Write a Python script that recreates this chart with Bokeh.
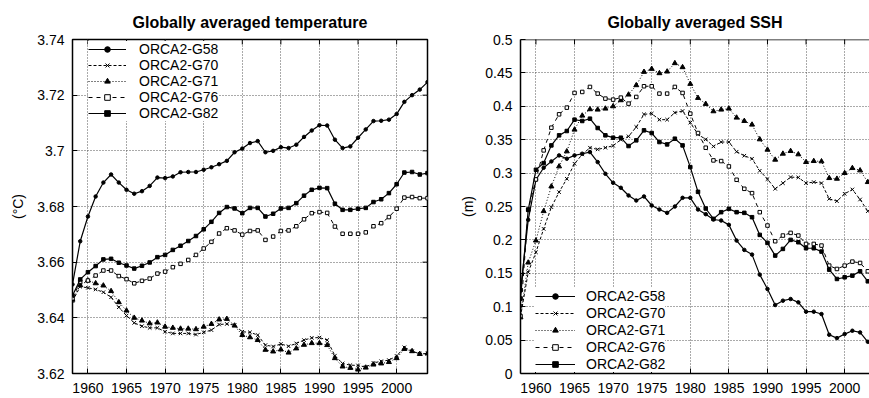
import math
from bokeh.plotting import figure
from bokeh.layouts import row
from bokeh.models import FixedTicker, Legend, LegendItem, Range1d, Span
from bokeh.embed import file_html
from bokeh.resources import INLINE

FONT = "Liberation Sans"

# ---------------- data ----------------
years_temp = list(range(1958, 2005))
years_ssh = list(range(1958, 2004))

run_names = ["ORCA2-G58", "ORCA2-G70", "ORCA2-G71", "ORCA2-G76", "ORCA2-G82"]

temp_g58 = [3.652, 3.6675, 3.6764, 3.6836, 3.6886, 3.6915, 3.6886, 3.686, 3.6846, 3.6855,
            3.6874, 3.6904, 3.6902, 3.6908, 3.6923, 3.6924, 3.6924, 3.6932, 3.6941, 3.6952,
            3.6964, 3.6995, 3.7008, 3.7028, 3.7035, 3.6995, 3.700, 3.7013, 3.701, 3.7022,
            3.705, 3.7073, 3.7092, 3.7091, 3.704, 3.701, 3.7016, 3.7047, 3.7077, 3.7107,
            3.7108, 3.7112, 3.7132, 3.7176, 3.720, 3.722, 3.7247]
temp_g70 = [3.646, 3.6512, 3.6508, 3.6502, 3.6492, 3.6474, 3.6438, 3.6408, 3.6382, 3.637,
            3.6364, 3.6364, 3.635, 3.6344, 3.6344, 3.6344, 3.634, 3.6348, 3.6356, 3.6376,
            3.6378, 3.6374, 3.635, 3.6348, 3.6338, 3.6302, 3.6297, 3.6306, 3.6298, 3.6308,
            3.632, 3.6328, 3.6329, 3.632, 3.6264, 3.6236, 3.623, 3.6229, 3.6223, 3.6238,
            3.6244, 3.6248, 3.6263, 3.6294, 3.628, 3.6271, 3.6272]
temp_g71 = [3.6465, 3.6517, 3.6534, 3.6524, 3.6516, 3.6496, 3.6456, 3.6426, 3.640, 3.639,
            3.638, 3.6383, 3.6368, 3.6364, 3.6361, 3.6361, 3.6359, 3.6368, 3.6378, 3.6394,
            3.6396, 3.6372, 3.6338, 3.633, 3.632, 3.6285, 3.6279, 3.6286, 3.6275, 3.629,
            3.6303, 3.6309, 3.6309, 3.6302, 3.6255, 3.6225, 3.622, 3.6214, 3.6221, 3.6232,
            3.6236, 3.6241, 3.6255, 3.6288, 3.628, 3.627, 3.6272]
temp_g76 = [3.647, 3.653, 3.6534, 3.6552, 3.657, 3.657, 3.655, 3.6539, 3.6524, 3.6533,
            3.6541, 3.6559, 3.6566, 3.6582, 3.6594, 3.6608, 3.6626, 3.6649, 3.6673, 3.6703,
            3.6722, 3.6714, 3.6699, 3.6712, 3.6714, 3.668, 3.6692, 3.6712, 3.6714, 3.6729,
            3.6754, 3.6776, 3.678, 3.6777, 3.6728, 3.6702, 3.6702, 3.6702, 3.6707, 3.6729,
            3.674, 3.6762, 3.6792, 3.6832, 3.6834, 3.683, 3.683]
temp_g82 = [3.648, 3.6538, 3.6564, 3.6586, 3.661, 3.6612, 3.6598, 3.6588, 3.6577, 3.6587,
            3.6599, 3.6618, 3.6626, 3.6644, 3.6659, 3.6676, 3.6694, 3.6718, 3.6745, 3.6777,
            3.6798, 3.6793, 3.6776, 3.6795, 3.6795, 3.6764, 3.6774, 3.6793, 3.6795, 3.6812,
            3.6839, 3.686, 3.6867, 3.6866, 3.681, 3.6788, 3.6788, 3.6792, 3.6795, 3.6816,
            3.6826, 3.6848, 3.688, 3.6922, 3.6924, 3.6915, 3.692]

ssh_g58 = [0.124, 0.23, 0.29, 0.308, 0.3175, 0.3265, 0.3215, 0.3265, 0.329, 0.3315,
           0.3165, 0.299, 0.2855, 0.278, 0.2665, 0.259, 0.265, 0.2515, 0.2455, 0.2405,
           0.25, 0.263, 0.263, 0.2455, 0.2385, 0.2305, 0.229, 0.2225, 0.199, 0.185,
           0.178, 0.148, 0.1265, 0.1025, 0.109, 0.1115, 0.1065, 0.0925, 0.0925, 0.089,
           0.058, 0.053, 0.059, 0.064, 0.0615, 0.0475]
ssh_g70 = [0.085, 0.1515, 0.1815, 0.2165, 0.249, 0.2715, 0.2915, 0.314, 0.328, 0.338,
           0.3355, 0.338, 0.341, 0.35, 0.355, 0.369, 0.388, 0.389, 0.38, 0.38,
           0.3905, 0.393, 0.3755, 0.358, 0.3505, 0.34, 0.3465, 0.3465, 0.332, 0.326,
           0.3215, 0.3035, 0.291, 0.2765, 0.285, 0.294, 0.2935, 0.285, 0.2865, 0.285,
           0.2615, 0.258, 0.269, 0.2755, 0.2605, 0.243]
ssh_g71 = [0.084, 0.166, 0.199, 0.243, 0.28, 0.31, 0.3325, 0.365, 0.386, 0.3955,
           0.395, 0.3965, 0.40, 0.409, 0.4175, 0.4315, 0.4515, 0.456, 0.4495, 0.452,
           0.4645, 0.4585, 0.4335, 0.4125, 0.4035, 0.3925, 0.395, 0.3965, 0.383, 0.378,
           0.3725, 0.3505, 0.335, 0.32, 0.329, 0.333, 0.328, 0.3165, 0.318, 0.3175,
           0.2925, 0.2915, 0.30, 0.3075, 0.304, 0.2865]
ssh_g76 = [0.086, 0.2455, 0.2905, 0.334, 0.368, 0.388, 0.398, 0.42, 0.4215, 0.429,
           0.419, 0.4115, 0.41, 0.413, 0.404, 0.414, 0.43, 0.43, 0.419, 0.419,
           0.429, 0.42, 0.389, 0.36, 0.338, 0.319, 0.318, 0.31, 0.29, 0.2765,
           0.27, 0.2415, 0.2215, 0.198, 0.2065, 0.2105, 0.2065, 0.194, 0.194, 0.1915,
           0.1615, 0.1565, 0.1615, 0.1675, 0.1655, 0.153]
ssh_g82 = [0.112, 0.245, 0.305, 0.315, 0.3415, 0.3565, 0.363, 0.38, 0.378, 0.3815,
           0.3675, 0.3565, 0.353, 0.353, 0.3405, 0.349, 0.364, 0.36, 0.3465, 0.343,
           0.3515, 0.3415, 0.309, 0.272, 0.247, 0.2315, 0.2415, 0.2465, 0.2415, 0.2405,
           0.234, 0.2075, 0.1955, 0.1765, 0.1865, 0.2, 0.1965, 0.1875, 0.1875, 0.1825,
           0.1555, 0.1415, 0.144, 0.1465, 0.153, 0.138]

year_ticks = [1960, 1965, 1970, 1975, 1980, 1985, 1990, 1995, 2000]
temp_ticks = [3.62, 3.64, 3.66, 3.68, 3.7, 3.72, 3.74]
temp_tick_labels = ["3.62", "3.64", "3.66", "3.68", "3.7", "3.72", "3.74"]
ssh_ticks = [0, 0.05, 0.1, 0.15, 0.2, 0.25, 0.3, 0.35, 0.4, 0.45, 0.5]
ssh_tick_labels = ["0", "0.05", "0.1", "0.15", "0.2", "0.25", "0.3", "0.35", "0.4", "0.45", "0.5"]

# line / marker styles per run
styles = [
    dict(dash="solid", width=1.2, marker="circle", size=3.5, fill="black"),
    dict(dash="3 2", width=1.0, marker="x", size=5, fill="black"),
    dict(dash="1 2", width=1.0, marker="triangle", size=5, fill="black"),
    dict(dash="4 4", width=1.0, marker="square", size=3.5, fill="white"),
    dict(dash="solid", width=1.2, marker="square", size=3.5, fill="black"),
]


def style_axis(ax, line=False):
    ax.major_tick_in = 5
    ax.major_tick_out = 0
    ax.minor_tick_line_color = None
    ax.major_tick_line_color = "black"
    ax.major_tick_line_width = 1
    ax.major_label_text_font = FONT
    ax.major_label_text_color = "black"
    ax.major_label_text_font_size = "14px"
    if line:
        ax.axis_line_color = "black"
        ax.axis_line_width = 1.5
    else:
        ax.axis_line_color = None


def make_panel(title, years, series, x_end, y_lo, y_hi, yticks, ylabels, ylabel,
               width, border_left, border_right, framed, leg_loc, leg_pad, leg_spacing,
               leg_glyph_w, leg_standoff, ylabel_standoff):
    p = figure(width=width, height=398, output_backend="svg", toolbar_location=None,
               x_range=Range1d(1958, x_end), y_range=Range1d(y_lo, y_hi),
               min_border_left=border_left, min_border_right=border_right,
               min_border_top=39, min_border_bottom=25,
               background_fill_color="white", border_fill_color="white")
    p.title.text = title
    p.title.align = "center"
    p.title.vertical_align = "top"
    p.title.standoff = 14
    p.title.text_font = FONT
    p.title.text_font_size = "16px"
    p.title.text_font_style = "bold"
    p.title.text_color = "black"

    if framed:
        p.outline_line_color = "black"
        p.outline_line_width = 1.5
        p.outline_line_alpha = 1
    else:
        p.outline_line_color = None
        p.add_layout(Span(location=y_hi, dimension="width", line_color="black",
                          line_width=1.5))

    xa = p.below[0]
    xa.ticker = FixedTicker(ticks=year_ticks)
    style_axis(xa, line=not framed)
    xa.major_label_standoff = 9

    ya = p.left[0]
    ya.ticker = FixedTicker(ticks=yticks)
    ya.major_label_overrides = dict(zip(yticks, ylabels))
    style_axis(ya, line=not framed)
    ya.major_label_standoff = 8
    ya.axis_label = ylabel
    ya.axis_label_text_font = FONT
    ya.axis_label_text_font_size = "14px"
    ya.axis_label_text_font_style = "normal"
    ya.axis_label_text_color = "black"
    ya.axis_label_standoff = ylabel_standoff

    p.xgrid.ticker = FixedTicker(ticks=year_ticks)
    p.ygrid.ticker = FixedTicker(ticks=yticks)
    for g in (p.xgrid[0], p.ygrid[0]):
        g.grid_line_color = "#555555"
        g.grid_line_dash = "1 2"
        g.grid_line_width = 1

    # inward tick marks on the top edge (and right edge when framed);
    # half of each dash lies outside the frame and is clipped away
    p.scatter(year_ticks, [y_hi] * len(year_ticks), marker="dash", angle=math.pi / 2,
              size=10, line_color="black", line_width=1)
    if framed:
        p.scatter([x_end] * len(yticks), yticks, marker="dash", size=10,
                  line_color="black", line_width=1)

    items = []
    for name, ys, st in zip(run_names, series, styles):
        ln = p.line(years, ys, line_color="black", line_width=st["width"], line_dash=st["dash"])
        sc = p.scatter(years, ys, marker=st["marker"], size=st["size"], line_color="black",
                       line_width=1, fill_color=st["fill"])
        items.append(LegendItem(label=name, renderers=[ln, sc]))

    leg = Legend(items=items, location=leg_loc, padding=leg_pad, spacing=leg_spacing, margin=0,
                 glyph_width=leg_glyph_w, glyph_height=14, label_height=14,
                 label_standoff=leg_standoff, label_text_font=FONT,
                 label_text_font_size="14px", label_text_line_height=1.0,
                 label_text_color="black",
                 background_fill_color="white", background_fill_alpha=1.0,
                 border_line_color=None)
    p.add_layout(leg)
    return p


p1 = make_panel("Globally averaged temperature", years_temp,
                [temp_g58, temp_g70, temp_g71, temp_g76, temp_g82],
                2004, 3.62, 3.74, temp_ticks, temp_tick_labels, "(°C)",
                width=440, border_left=72, border_right=13, framed=True,
                leg_loc=(16, 252), leg_pad=5, leg_spacing=0, leg_glyph_w=38,
                leg_standoff=13, ylabel_standoff=8)

p2 = make_panel("Globally averaged SSH", years_ssh,
                [ssh_g58, ssh_g70, ssh_g71, ssh_g76, ssh_g82],
                2003.22, 0, 0.5, ssh_ticks, ssh_tick_labels, "(m)",
                width=429, border_left=80, border_right=0, framed=False,
                leg_loc=(15, 1), leg_pad=2, leg_spacing=1, leg_glyph_w=40,
                leg_standoff=11, ylabel_standoff=6)

layout = row(p1, p2, spacing=0)
open("out.html", "w").write(file_html(layout, INLINE))
